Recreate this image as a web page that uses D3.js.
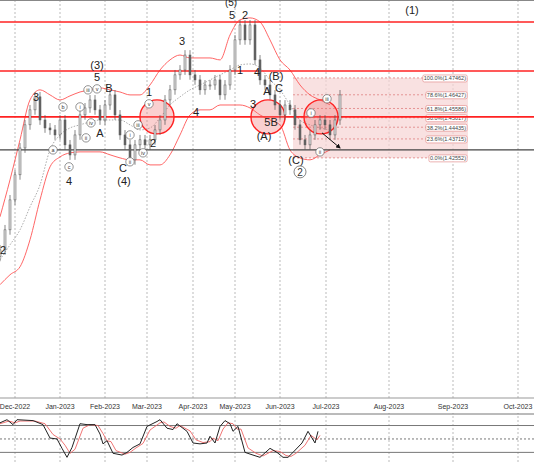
<!DOCTYPE html>
<html><head><meta charset="utf-8">
<script src="https://cdn.jsdelivr.net/npm/d3@7"></script>
<style>body{margin:0;background:#fff}svg{font-family:"Liberation Sans",Arial,sans-serif}</style>
</head><body><div id="chart"></div>
<script>
const W = 534, H = 462;

// closes, one bar every 5px
const closes = [1.3690,1.3813,1.3997,1.4151,1.4316,1.4458,1.4550,1.4630,1.4488,1.4439,1.4427,1.4396,1.4488,1.4335,1.4273,1.4396,1.4519,1.4562,1.4611,1.4550,1.4488,1.4580,1.4642,1.4519,1.4396,1.4335,1.4243,1.4335,1.4366,1.4335,1.4366,1.4427,1.4488,1.4611,1.4673,1.4765,1.4795,1.4887,1.4765,1.4734,1.4673,1.4703,1.4703,1.4734,1.4642,1.4703,1.4795,1.4980,1.5072,1.4980,1.5072,1.4857,1.4734,1.4703,1.4642,1.4580,1.4519,1.4580,1.4550,1.4458,1.4366,1.4335,1.4396,1.4458,1.4488,1.4458,1.4396,1.4488,1.4642];
// bands, one value every 2 bars
const upperBand = [1.3893,1.4120,1.4366,1.4611,1.4673,1.4642,1.4611,1.4636,1.4660,1.4673,1.4685,1.4673,1.4660,1.4642,1.4642,1.4703,1.4795,1.4857,1.4887,1.4869,1.4869,1.4869,1.4857,1.5010,1.5103,1.5115,1.5090,1.4980,1.4857,1.4795,1.4703,1.4642,1.4611,1.4581];
const lowerBand = [1.3476,1.3537,1.3586,1.3752,1.3997,1.4200,1.4261,1.4286,1.4292,1.4292,1.4292,1.4274,1.4255,1.4243,1.4243,1.4212,1.4212,1.4274,1.4396,1.4519,1.4550,1.4550,1.4580,1.4580,1.4580,1.4562,1.4519,1.4488,1.4458,1.4304,1.4255,1.4243,1.4274,1.4304];
const midBand = [1.3629,1.3721,1.3813,1.3954,1.4089,1.4304,1.4396,1.4439,1.4458,1.4476,1.4488,1.4488,1.4488,1.4458,1.4427,1.4439,1.4501,1.4580,1.4630,1.4673,1.4703,1.4734,1.4765,1.4795,1.4826,1.4832,1.4808,1.4734,1.4673,1.4580,1.4488,1.4458,1.4439,1.4427];

const hLevelsRed = [1.5090, 1.4789, 1.4507];
const hLevelBlack = 1.4304;

const fibLevels = [[1.47462,"100.0%(1.47462)"],[1.46427,"78.6%(1.46427)"],[1.45586,"61.8%(1.45586)"],[1.45017,"50.0%(1.45017)"],[1.44435,"38.2%(1.44435)"],[1.43715,"23.6%(1.43715)"],[1.42552,"0.0%(1.42552)"]];
const fibStart = 58.6, fibEnd = 93.6;

const monthTicks = [[3,"Dec-2022"],[12,"Jan-2023"],[21,"Feb-2023"],[29.4,"Mar-2023"],[38.6,"Apr-2023"],[47,"May-2023"],[56,"Jun-2023"],[65.2,"Jul-2023"],[77.8,"Aug-2023"],[90.6,"Sep-2023"],[103.6,"Oct-2023"]];

const waveLabels = [[0.6,1.3690,"2"],[7.2,1.4630,"3"],[13.8,1.4114,"4"],[19.4,1.4826,"(3)"],[19.4,1.4753,"5"],[21.8,1.4685,"B"],[20,1.4409,"A"],[24.6,1.4194,"C"],[24.8,1.4114,"(4)"],[29.8,1.4660,"1"],[30.6,1.4347,"2"],[36.4,1.4974,"3"],[39.2,1.4538,"4"],[46.2,1.5215,"(5)"],[46.4,1.5135,"5"],[49,1.5133,"2"],[48,1.4796,"1"],[51.4,1.4783,"4"],[50.6,1.4587,"3"],[53.4,1.4667,"A"],[54.2,1.4476,"5B"],[52.8,1.4390,"(A)"],[55.2,1.4759,"(B)"],[55.8,1.4685,"C"],[59.2,1.4243,"(C)"],[82.4,1.5164,"(1)"]];
const circledLabels = [[12.6,1.4568,"b"],[10.6,1.4304,"a"],[13.8,1.4200,"c"],[16,1.4568,"i"],[17.2,1.4378,"ii"],[17.6,1.4673,"iii"],[19.4,1.4679,"v"],[18.2,1.4470,"iv"],[26,1.4396,"i"],[26,1.4231,"ii"],[27.6,1.4458,"iii"],[28.6,1.4286,"iv"],[29.8,1.4587,"v"],[62.2,1.4531,"i"],[64,1.4292,"ii"],[65.4,1.4618,"iii"]];
const bigCircles = [[31.4,1.4507],[53.6,1.4507],[64.2,1.4507]];

const oscBlack = [[0,86],[1.4,93],[2.6,82],[3.4,93],[6.6,91],[8.6,82],[10,52],[11.4,50],[12.4,29],[13.4,9],[14.4,31],[16,84],[17.4,82],[19,82],[20,61],[20.6,39],[21.4,46],[22.6,18],[24.4,14],[25.4,20],[26.6,31],[28,39],[29.4,78],[31.4,89],[32,93],[33.4,74],[34.6,71],[35.4,84],[37.4,67],[38.6,41],[40,39],[41.4,41],[42,56],[43,41],[44,78],[45,91],[46,84],[46.6,67],[47.6,78],[49,20],[50.6,14],[52,9],[54,29],[55.4,20],[56.6,9],[57.6,9],[58.6,20],[60.4,41],[61.6,67],[63,41],[63.6,67]];
const oscRed = [[0,84],[1.8,90],[3,86],[4,90],[7,90],[9,84],[10.6,60],[12,50],[13,36],[14,18],[15,27],[16.6,74],[18,82],[19.6,80],[20.6,62],[21.4,46],[22.2,44],[23.2,24],[25,16],[26,20],[27.2,30],[28.6,40],[30,70],[32,86],[32.8,88],[34,78],[35.2,74],[36,80],[38,68],[39.2,48],[40.6,42],[42,44],[42.6,52],[43.6,46],[44.6,72],[45.6,86],[46.6,84],[47.4,72],[48.2,72],[49.6,30],[51.2,18],[52.6,12],[54.6,24],[56,22],[57.2,13],[58.2,11],[59.2,18],[61,36],[62.2,58],[63.4,48],[64,58]];

const svg = d3.select("#chart").append("svg").attr("width", W).attr("height", H);

const x = d3.scaleLinear().domain([0, 106.8]).range([0, 534]);
const y = d3.scaleLinear().domain([1.278, 1.5225]).range([398, 0]);
const yo = d3.scaleLinear().domain([3, 103.5]).range([460, 415]);

// grid
monthTicks.forEach(t => {
  svg.append("line").attr("x1", x(t[0])).attr("x2", x(t[0])).attr("y1", 0).attr("y2", 462)
    .attr("stroke", "#aaa").attr("stroke-dasharray", "2,2").attr("stroke-width", 0.8);
});
svg.append("line").attr("x1",0).attr("x2",W).attr("y1",0.5).attr("y2",0.5).attr("stroke","#888");

// fib box
svg.append("rect").attr("x", x(fibStart)).attr("y", y(fibLevels[0][0]))
  .attr("width", x(fibEnd) - x(fibStart)).attr("height", y(fibLevels[6][0]) - y(fibLevels[0][0]))
  .attr("fill", "#f6d4d4").attr("opacity", 0.7);
fibLevels.forEach(f => {
  svg.append("line").attr("x1", x(fibStart)).attr("x2", x(fibEnd)).attr("y1", y(f[0])).attr("y2", y(f[0]))
    .attr("stroke", "#e08080").attr("stroke-dasharray", "2,2").attr("stroke-width", 0.8);
  const t = svg.append("text").attr("x", x(fibEnd) - 2).attr("y", y(f[0]) + 2.5).attr("text-anchor", "end")
    .attr("font-size", 5.5).attr("fill", "#444").text(f[1]);
  const b = t.node().getBBox();
  svg.insert("rect", () => t.node()).attr("x", b.x - 1).attr("y", b.y - 0.5).attr("width", b.width + 2).attr("height", b.height + 1)
    .attr("fill", "#fff").attr("stroke", "#e08080").attr("stroke-width", 0.6).attr("rx", 1.5);
});

// bands
const band = arr => d3.line().x((d, i) => x(i * 2)).y(d => y(d)).curve(d3.curveMonotoneX)(arr);
svg.append("path").attr("d", band(upperBand)).attr("fill", "none").attr("stroke", "#f55").attr("stroke-width", 0.9);
svg.append("path").attr("d", band(lowerBand)).attr("fill", "none").attr("stroke", "#f55").attr("stroke-width", 0.9);
svg.append("path").attr("d", band(midBand)).attr("fill", "none").attr("stroke", "#888").attr("stroke-width", 0.7).attr("stroke-dasharray", "1.5,1.5");

// horizontal levels
hLevelsRed.forEach(p => svg.append("line").attr("x1", 0).attr("x2", W).attr("y1", y(p)).attr("y2", y(p)).attr("stroke", "#f22").attr("stroke-width", 1.6));
svg.append("line").attr("x1", 0).attr("x2", W).attr("y1", y(hLevelBlack)).attr("y2", y(hLevelBlack)).attr("stroke", "#444").attr("stroke-width", 1.2);

// big circles
bigCircles.forEach(c => svg.append("circle").attr("cx", x(c[0])).attr("cy", y(c[1])).attr("r", 17)
  .attr("fill", "rgba(240,120,120,0.35)").attr("stroke", "#f22").attr("stroke-width", 1.4));

// bars
closes.forEach((c, i) => {
  const o = i ? closes[i - 1] : c - 0.004;
  const hi = Math.max(o, c) + 0.003, lo = Math.min(o, c) - 0.003;
  svg.append("line").attr("x1", x(i)).attr("x2", x(i)).attr("y1", y(hi)).attr("y2", y(lo)).attr("stroke", "#555").attr("stroke-width", 0.7);
  svg.append("rect").attr("x", x(i) - 1).attr("width", 2)
    .attr("y", y(Math.max(o, c))).attr("height", Math.max(1, Math.abs(y(o) - y(c))))
    .attr("fill", c >= o ? "#ddd" : "#666").attr("stroke", "#555").attr("stroke-width", 0.5);
});

// arrow
svg.append("defs").append("marker").attr("id", "ah").attr("viewBox", "0 0 10 10").attr("refX", 8).attr("refY", 5)
  .attr("markerWidth", 5).attr("markerHeight", 5).attr("orient", "auto")
  .append("path").attr("d", "M0,0L10,5L0,10z").attr("fill", "#111");
svg.append("line").attr("x1", x(64.4)).attr("y1", y(1.4409)).attr("x2", x(68)).attr("y2", y(1.4316))
  .attr("stroke", "#111").attr("stroke-width", 1).attr("marker-end", "url(#ah)");

// wave labels
waveLabels.forEach(l => svg.append("text").attr("x", x(l[0])).attr("y", y(l[1]) + 4).attr("text-anchor", "middle")
  .attr("font-size", l[2] === "(5)" ? 10 : 11).attr("fill", "#222").text(l[2]));
circledLabels.forEach(l => {
  svg.append("circle").attr("cx", x(l[0])).attr("cy", y(l[1])).attr("r", 4.2).attr("fill", "#fff").attr("stroke", "#666").attr("stroke-width", 0.7);
  svg.append("text").attr("x", x(l[0])).attr("y", y(l[1]) + 2).attr("text-anchor", "middle").attr("font-size", 5.5).attr("fill", "#333").text(l[2]);
});
svg.append("circle").attr("cx", x(60)).attr("cy", y(1.4169)).attr("r", 6).attr("fill", "#fff").attr("stroke", "#666").attr("stroke-width", 0.8);
svg.append("text").attr("x", x(60)).attr("y", y(1.4169) + 4).attr("text-anchor", "middle").attr("font-size", 10).attr("fill", "#333").text("2");

// time axis band
svg.append("rect").attr("x", 0).attr("y", 398).attr("width", W).attr("height", 15).attr("fill", "#fff");
svg.append("line").attr("x1", 0).attr("x2", W).attr("y1", 398).attr("y2", 398).attr("stroke", "#999");
svg.append("line").attr("x1", 0).attr("x2", W).attr("y1", 414).attr("y2", 414).attr("stroke", "#777");
monthTicks.forEach(t => svg.append("text").attr("x", x(t[0])).attr("y", 409).attr("text-anchor", "middle")
  .attr("font-size", 7).attr("fill", "#333").text(t[1]));

// oscillator
[80, 20].forEach(v => svg.append("line").attr("x1", 0).attr("x2", W).attr("y1", yo(v)).attr("y2", yo(v)).attr("stroke", "#777"));
svg.append("line").attr("x1", 0).attr("x2", W).attr("y1", yo(50)).attr("y2", yo(50)).attr("stroke", "#777").attr("stroke-dasharray", "2,2");
const ol = d3.line().x(d => x(d[0])).y(d => yo(d[1]));
svg.append("path").attr("d", ol(oscRed)).attr("fill", "none").attr("stroke", "#e66").attr("stroke-width", 0.9);
svg.append("path").attr("d", ol(oscBlack)).attr("fill", "none").attr("stroke", "#222").attr("stroke-width", 1);
</script></body></html>
